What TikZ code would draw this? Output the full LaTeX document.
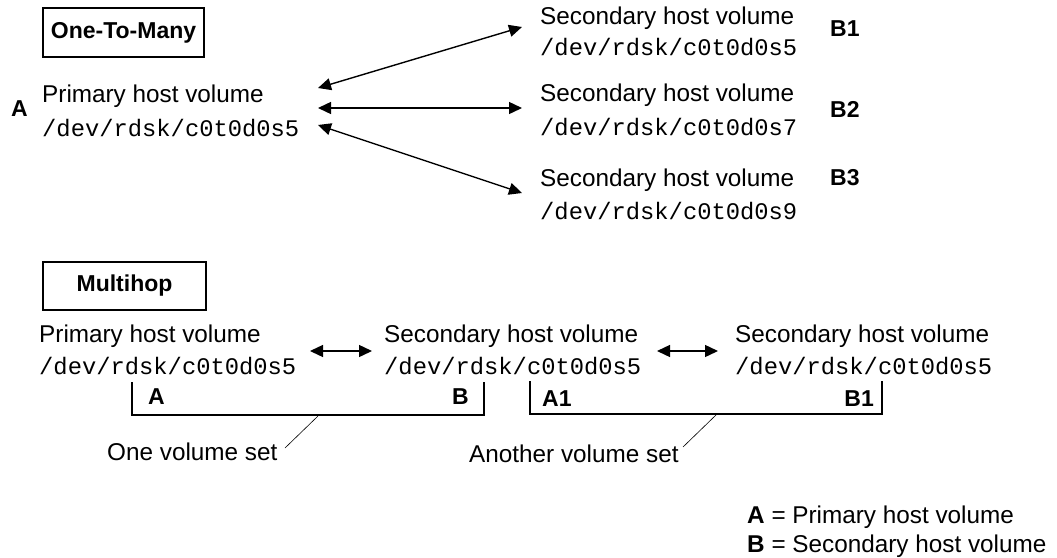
\documentclass[tikz,border=0pt]{standalone}
\usepackage{fontspec}
\setmainfont{Liberation Sans}
\setmonofont{Liberation Mono}
\usetikzlibrary{arrows.meta}
\begin{document}
\begin{tikzpicture}[x=1pt,y=-1pt,
  txt/.style={inner sep=0pt,anchor=base west,font=\fontsize{24.3}{28}\selectfont},
  mono/.style={inner sep=0pt,anchor=base west,font=\fontsize{23.8}{28}\ttfamily},
  lbl/.style={inner sep=0pt,anchor=base west,font=\fontsize{23}{28}\selectfont\bfseries},
  titlebox/.style={draw,line width=2pt,inner sep=0pt,font=\fontsize{23}{28}\selectfont\bfseries},
  dbl/.style={line width=1.4pt,{Triangle[length=13pt,width=12pt]}-{Triangle[length=13pt,width=12pt]}},
  bracket/.style={line width=2pt},
  leader/.style={line width=0.6pt}]
\useasboundingbox (0,0) rectangle (1057,557);
% One-To-Many
\node[titlebox,minimum width=161pt,minimum height=49pt] (otm) at (123.5,32.5) {One-To-Many};
\node[lbl] (A) at (11,116) {A};
\node[txt] (p1) at (42,102) {Primary host volume};
\node[mono] (p1d) at (42,136) {/dev/rdsk/c0t0d0s5};
\node[txt] (s1) at (540,24) {Secondary host volume};
\node[mono] (s1d) at (540,55) {/dev/rdsk/c0t0d0s5};
\node[txt] (s2) at (540,101) {Secondary host volume};
\node[mono] (s2d) at (540,135) {/dev/rdsk/c0t0d0s7};
\node[txt] (s3) at (540,186) {Secondary host volume};
\node[mono] (s3d) at (540,219) {/dev/rdsk/c0t0d0s9};
\node[lbl] (B1) at (830,36) {B1};
\node[lbl] (B2) at (830,117) {B2};
\node[lbl] (B3) at (830,185) {B3};
\coordinate (a1l) at (318,88);  \coordinate (a1r) at (522,27);
\coordinate (a2l) at (318,108); \coordinate (a2r) at (522,108);
\coordinate (a3l) at (318,125); \coordinate (a3r) at (522,193);
\draw[dbl] (a1l) -- (a1r);
\draw[dbl] (a2l) -- (a2r);
\draw[dbl] (a3l) -- (a3r);
% Multihop
\node[titlebox,minimum width=163pt,minimum height=48pt] (mh) at (124.5,286) {Multihop};
\node[txt] (m1) at (39,342) {Primary host volume};
\node[mono] (m1d) at (39,374) {/dev/rdsk/c0t0d0s5};
\node[txt] (m2) at (384,342) {Secondary host volume};
\node[mono] (m2d) at (384,374) {/dev/rdsk/c0t0d0s5};
\node[txt] (m3) at (735,342) {Secondary host volume};
\node[mono] (m3d) at (735,374) {/dev/rdsk/c0t0d0s5};
\coordinate (h1l) at (310,351); \coordinate (h1r) at (372,351);
\coordinate (h2l) at (657,351); \coordinate (h2r) at (718,351);
\draw[dbl] (h1l) -- (h1r);
\draw[dbl] (h2l) -- (h2r);
\coordinate (b1a) at (132,382); \coordinate (b1b) at (484,382);
\coordinate (b2a) at (530,381); \coordinate (b2b) at (882,381);
\draw[bracket] (b1a) -- (132,415) -- (484,415) -- (b1b);
\draw[bracket] (b2a) -- (530,414) -- (882,414) -- (b2b);
\node[lbl] (mA) at (148,404) {A};
\node[lbl,anchor=base east] (mB) at (469,404) {B};
\node[lbl] (mA1) at (542,406) {A1};
\node[lbl,anchor=base east] (mB1) at (874,406) {B1};
\node[txt] (ovs) at (107,460) {One volume set};
\node[txt] (avs) at (469,462) {Another volume set};
\coordinate (l1a) at (318,416); \coordinate (l1b) at (285,448);
\coordinate (l2a) at (717,414); \coordinate (l2b) at (683,447);
\draw[leader] (l1a) -- (l1b);
\draw[leader] (l2a) -- (l2b);
% Legend
\node[txt] (legA) at (747,523) {\textbf{A} = Primary host volume};
\node[txt] (legB) at (747,552) {\textbf{B} = Secondary host volume};
\end{tikzpicture}
\end{document}
